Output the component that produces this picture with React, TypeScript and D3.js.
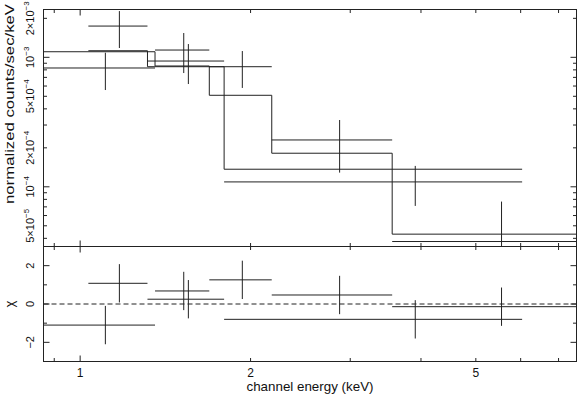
import React from "react";
import * as d3 from "d3";

// spectrum 1 (five bins)
const s1Lo = [0.8, 1.356, 1.691, 2.18, 3.558];
const s1Hi = [1.356, 1.691, 2.18, 3.558, 8.0];
const s1Mid = [1.108, 1.524, 1.934, 2.873, 5.551];
const s1Flux = [8.27e-4, 1.138e-3, 8.46e-4, 2.3e-4, 3.78e-5];
const s1FluxLo = [5.59e-4, 7.56e-4, 5.8e-4, 1.287e-4, 2.0e-5];
const s1FluxHi = [1.085e-3, 1.54e-3, 1.118e-3, 3.28e-4, 7.69e-5];
const s1Model = [1.104e-3, 8.57e-4, 5.09e-4, 1.817e-4, 4.31e-5];
const s1Chi = [-1.1, 0.68, 1.26, 0.47, -0.14];

// spectrum 2 (three bins)
const s2Lo = [1.034, 1.315, 1.796];
const s2Hi = [1.315, 1.796, 6.036];
const s2Mid = [1.173, 1.553, 3.908];
const s2Flux = [1.743e-3, 9.36e-4, 1.091e-4];
const s2FluxLo = [1.18e-3, 6.22e-4, 7.12e-5];
const s2FluxHi = [2.275e-3, 1.266e-3, 1.45e-4];
const s2Model = [1.124e-3, 8.46e-4, 1.367e-4];
const s2Chi = [1.08, 0.25, -0.8];

const chiErr = 1;

const xMajor = [1];
const xMinor = [0.9, 2, 3, 4, 5, 6, 7];
const xLabels = [1, 2, 5];
const yMajor = [1e-4, 1e-3];
const yMinor = [4e-5, 5e-5, 6e-5, 7e-5, 8e-5, 9e-5, 2e-4, 3e-4, 4e-4, 5e-4, 6e-4, 7e-4, 8e-4, 9e-4, 2e-3];
const yLabels = [
  { v: 2e-3, m: "2×10", e: "−3" },
  { v: 1e-3, m: "10", e: "−3" },
  { v: 5e-4, m: "5×10", e: "−4" },
  { v: 2e-4, m: "2×10", e: "−4" },
  { v: 1e-4, m: "10", e: "−4" },
  { v: 5e-5, m: "5×10", e: "−5" },
];
const chiMajor = [-2, 0, 2];
const chiMinor = [-1, 1];
const chiLabels = ["−2", "0", "2"];

const W = 577, H = 396;
const L = 43.5, R = 576.5, T = 9.5, M = 246.5, B = 361.5;
const ink = "#222";
const font = "'Liberation Sans', Arial, sans-serif";

const x = d3.scaleLog().domain([0.8615, 7.53]).range([L, R]);
const y = d3.scaleLog().domain([3.46e-5, 2.34e-3]).range([M, T]);
const yc = d3.scaleLinear().domain([-3, 3]).range([B, M]);

function steps(lo: number[], hi: number[], v: number[]) {
  const pts: [number, number][] = [];
  lo.forEach((l, i) => {
    pts.push([x(l), y(v[i])]);
    pts.push([x(hi[i]), y(v[i])]);
  });
  return d3.line()(pts) || "";
}

function Crosses({ lo, hi, mid, v, vLo, vHi, sy }: any) {
  return (
    <g>
      {mid.map((m: number, i: number) => (
        <g key={i}>
          <line x1={x(lo[i])} x2={x(hi[i])} y1={sy(v[i])} y2={sy(v[i])} />
          <line x1={x(m)} x2={x(m)} y1={sy(vLo[i])} y2={sy(vHi[i])} />
        </g>
      ))}
    </g>
  );
}

function xTicks(y0: number, dir: number) {
  return (
    <g>
      {xMajor.map((t) => <line key={"a" + t} x1={x(t)} x2={x(t)} y1={y0} y2={y0 + 6 * dir} />)}
      {xMinor.map((t) => <line key={"b" + t} x1={x(t)} x2={x(t)} y1={y0} y2={y0 + 3.5 * dir} />)}
    </g>
  );
}

export default function App() {
  const chi1 = s1Chi.map((c) => ({ lo: c - chiErr, hi: c + chiErr }));
  const chi2 = s2Chi.map((c) => ({ lo: c - chiErr, hi: c + chiErr }));
  return (
    <svg width={W} height={H} style={{ position: "absolute", left: 0, top: 0, background: "#fff" }}>
      <defs>
        <clipPath id="cu"><rect x={L} y={T} width={R - L} height={M - T} /></clipPath>
        <clipPath id="cl"><rect x={L} y={M} width={R - L} height={B - M} /></clipPath>
      </defs>
      <g stroke={ink} strokeWidth={1} fill="none">
        {/* upper panel */}
        <g clipPath="url(#cu)">
          <path d={steps(s1Lo, s1Hi, s1Model)} />
          <path d={steps(s2Lo, s2Hi, s2Model)} />
          <Crosses lo={s1Lo} hi={s1Hi} mid={s1Mid} v={s1Flux} vLo={s1FluxLo} vHi={s1FluxHi} sy={y} />
          <Crosses lo={s2Lo} hi={s2Hi} mid={s2Mid} v={s2Flux} vLo={s2FluxLo} vHi={s2FluxHi} sy={y} />
        </g>
        {/* residual panel */}
        <g clipPath="url(#cl)">
          <line x1={L} x2={R} y1={yc(0)} y2={yc(0)} strokeDasharray="5,3" />
          <Crosses lo={s1Lo} hi={s1Hi} mid={s1Mid} v={s1Chi} vLo={chi1.map((d) => d.lo)} vHi={chi1.map((d) => d.hi)} sy={yc} />
          <Crosses lo={s2Lo} hi={s2Hi} mid={s2Mid} v={s2Chi} vLo={chi2.map((d) => d.lo)} vHi={chi2.map((d) => d.hi)} sy={yc} />
        </g>
        {/* frames */}
        <rect x={L} y={T} width={R - L} height={M - T} />
        <rect x={L} y={M} width={R - L} height={B - M} />
        {xTicks(T, 1)}
        {xTicks(M, -1)}
        {xTicks(M, 1)}
        {xTicks(B, -1)}
        {yMajor.map((t) => (
          <g key={"ym" + t}>
            <line x1={L} x2={L + 6} y1={y(t)} y2={y(t)} />
            <line x1={R} x2={R - 6} y1={y(t)} y2={y(t)} />
          </g>
        ))}
        {yMinor.map((t) => (
          <g key={"yn" + t}>
            <line x1={L} x2={L + 3.5} y1={y(t)} y2={y(t)} />
            <line x1={R} x2={R - 3.5} y1={y(t)} y2={y(t)} />
          </g>
        ))}
        {chiMajor.map((t) => (
          <g key={"cm" + t}>
            <line x1={L} x2={L + 6} y1={yc(t)} y2={yc(t)} />
            <line x1={R} x2={R - 6} y1={yc(t)} y2={yc(t)} />
          </g>
        ))}
        {chiMinor.map((t) => (
          <g key={"cn" + t}>
            <line x1={L} x2={L + 3.5} y1={yc(t)} y2={yc(t)} />
            <line x1={R} x2={R - 3.5} y1={yc(t)} y2={yc(t)} />
          </g>
        ))}
      </g>
      <g fill="#111" fontFamily={font} fontSize={12}>
        {xLabels.map((t) => (
          <text key={t} x={x(t)} y={377} textAnchor="middle">{t}</text>
        ))}
        <text x={310} y={391} textAnchor="middle" fontSize={13} textLength={127} lengthAdjust="spacingAndGlyphs">channel energy (keV)</text>
        {yLabels.map((d) => (
          <text key={d.v} transform={`translate(34,${y(d.v)}) rotate(-90)`} textAnchor="middle" fontSize={11}>
            {d.m}
            <tspan fontSize={8} dy={-5}>{d.e}</tspan>
          </text>
        ))}
        {chiMajor.map((t, i) => (
          <text key={t} transform={`translate(34,${yc(t)}) rotate(-90)`} textAnchor="middle" fontSize={11}>
            {chiLabels[i]}
          </text>
        ))}
        <text transform={`translate(14,104) rotate(-90)`} textAnchor="middle" fontSize={13} textLength={200} lengthAdjust="spacingAndGlyphs">normalized counts/sec/keV</text>
        <text transform={`translate(14,${yc(0)}) rotate(-90)`} textAnchor="middle" fontSize={13}>χ</text>
      </g>
    </svg>
  );
}
